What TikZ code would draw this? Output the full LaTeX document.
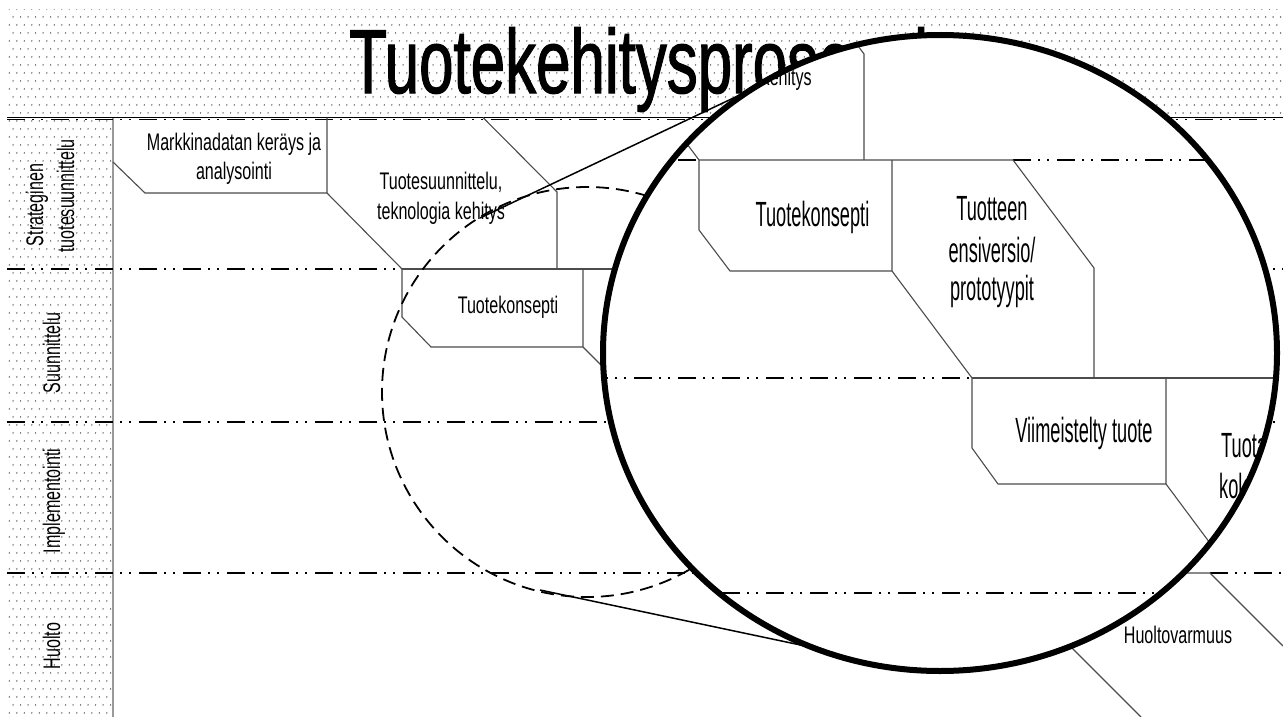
\documentclass[tikz,border=0pt]{standalone}
\usepackage{fontspec}
\newfontfamily\smallf[FakeStretch=0.67]{Liberation Sans}
\newfontfamily\bigf[FakeStretch=0.52]{Liberation Sans}
\newfontfamily\titlef[FakeStretch=0.68,FakeBold=1.2]{Liberation Sans}
\usetikzlibrary{patterns}
\pgfdeclarepatternformonly{mydots}{\pgfqpoint{-1pt}{-1pt}}{\pgfqpoint{9pt}{17pt}}{\pgfqpoint{7.5pt}{16pt}}{%
  \pgfpathcircle{\pgfqpoint{1.8pt}{4pt}}{0.7pt}%
  \pgfpathcircle{\pgfqpoint{5.55pt}{12pt}}{0.7pt}%
  \pgfusepath{fill}}
\begin{document}
\begin{tikzpicture}[x=1pt,y=-1pt,
  shapeline/.style={draw=black!70,line width=1.1pt},
  laneline/.style={line width=2.4pt,dash pattern=on 18pt off 7pt on 2pt off 7pt on 2pt off 8pt},
  lbl/.style={font=\smallf\fontsize{24}{29}\selectfont,inner sep=0pt},
  mlbl/.style={font=\bigf\fontsize{35}{40}\selectfont,inner sep=0pt},
  dotband/.style={pattern=mydots,pattern color=black!85}]
\useasboundingbox (0,0) rectangle (1283,717);
\fill[white] (0,0) rectangle (1283,717);
% dotted bands
\fill[dotband] (7,10) rectangle (1283,118);
\fill[dotband] (7,118) rectangle (113,717);
\draw[black!40,line width=1.2pt] (113,118) -- (113,717);
% title
\node[anchor=base west,inner sep=0pt,font=\titlef\fontsize{91}{91}\selectfont] (title) at (349,93) {Tuotekehitysprosessi};
% lane lines
\draw[laneline,line width=1.8pt] (7,119.5) -- (1283,119.5);
\draw[black,line width=1.6pt] (7,117.5) -- (1283,117.5);
\draw[laneline] (7,269) -- (402,269);
\draw[laneline] (720,269) -- (1283,269);
\draw[laneline] (7,422) -- (1283,422);
\draw[laneline] (7,573) -- (997,573);
\draw[laneline] (1210,573) -- (1283,573);
% lane labels
\node[lbl,rotate=90,anchor=base] (l1a) at (43,205) {Strateginen};
\node[lbl,rotate=90,anchor=base] (l1b) at (74,196) {tuotesuunnittelu};
\node[lbl,rotate=90,anchor=base] (l2) at (60,353) {Suunnittelu};
\node[lbl,rotate=90,anchor=base] (l3) at (60,501) {Implementointi};
\node[lbl,rotate=90,anchor=base] (l4) at (60,646) {Huolto};
% base process shapes
\draw[shapeline] (113,162) -- (145,193) -- (327,193) -- (327,117.5);
\draw[shapeline] (327,193) -- (402,269) -- (402,317) -- (431,347) -- (583,347) -- (583,269);
\draw[shapeline] (402,269) -- (720,269);
\draw[shapeline] (483,117.5) -- (557,192) -- (557,269);
\draw[shapeline] (583,347) -- (658,422);
\draw[shapeline] (997,573) -- (1210,573) -- (1283,646);
\draw[shapeline] (997,573) -- (1141,717);
\node[lbl,anchor=base] (t1a) at (234,150.5) {Markkinadatan keräys ja};
\node[lbl,anchor=base] (t1b) at (234,179) {analysointi};
\node[lbl,anchor=base] (t2a) at (441,189) {Tuotesuunnittelu,};
\node[lbl,anchor=base] (t2b) at (441,219) {teknologia kehitys};
\node[lbl,anchor=base] (t3) at (508,313) {Tuotekonsepti};
\node[lbl,anchor=base] (t9) at (1178,643) {Huoltovarmuus};
% zoom source and tangents
\node[draw,dash pattern=on 13pt off 7pt,line width=1.8pt,circle,minimum size=410pt,inner sep=0pt] (src) at (587,392) {};
\coordinate (ua) at (480,218);
\coordinate (ub) at (744,93);
\coordinate (la) at (540,590);
\coordinate (lb) at (810,647);
\draw[line width=1.5pt] (ua) -- (ub);
\draw[line width=1.5pt] (la) -- (lb);
% magnified view
\begin{scope}
\clip (940,353) ellipse [x radius=337pt,y radius=318pt];
\fill[white] (590,0) rectangle (1290,717);
\draw[laneline] (590,160) -- (699,160);
\draw[laneline] (1013,160) -- (1290,160);
\draw[laneline] (590,378) -- (972,378);
\draw[laneline] (590,593) -- (1290,593);
\draw[shapeline] (824,0) -- (864,54) -- (864,160);
\draw[shapeline] (669,120) -- (699,160) -- (699,230) -- (730,271) -- (892,271) -- (892,160);
\draw[shapeline] (699,160) -- (1013,160) -- (1094,268) -- (1094,378);
\draw[shapeline] (892,271) -- (972,378) -- (972,448) -- (998,484) -- (1166,484) -- (1166,378);
\draw[shapeline] (972,378) -- (1290,378);
\draw[shapeline] (1166,484) -- (1230,570);
\node[lbl,anchor=base east] (m0) at (812,85) {teknologia kehitys};
\node[mlbl,anchor=base] (m1) at (812.5,226) {Tuotekonsepti};
\node[mlbl,anchor=base] (m2a) at (992,220) {Tuotteen};
\node[mlbl,anchor=base] (m2b) at (992,262) {ensiversio/};
\node[mlbl,anchor=base] (m2c) at (992,300) {prototyypit};
\node[mlbl,anchor=base] (m3) at (1084,442) {Viimeistelty tuote};
\node[mlbl,anchor=base west] (m4a) at (1221,457) {Tuotanto};
\node[mlbl,anchor=base west] (m4b) at (1219,498) {kokoonpano};
\end{scope}
\draw[line width=6pt] (940,353) ellipse [x radius=337pt,y radius=318pt];
\end{tikzpicture}
\end{document}
